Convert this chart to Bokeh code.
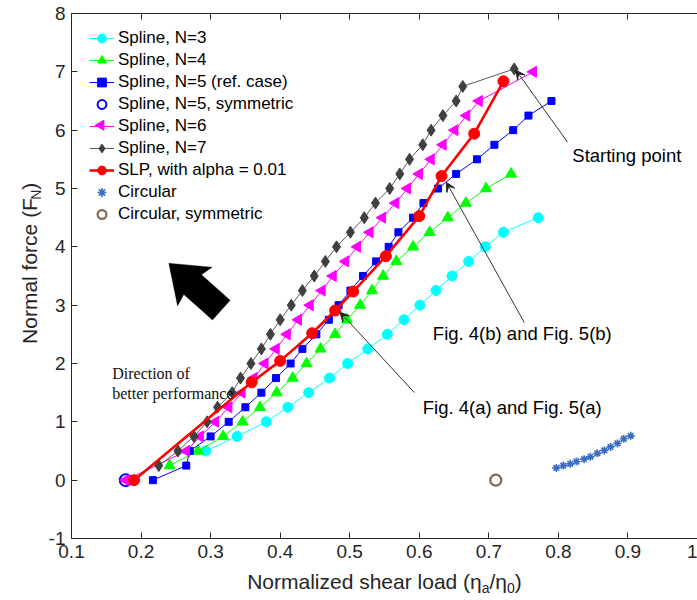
import math
from bokeh.plotting import figure
from bokeh.layouts import row, column
from bokeh.models import (Range1d, FixedTicker, Legend, LegendItem, Label, Arrow, VeeHead,
                          PolyAnnotation, LinearAxis, CustomJSTickFormatter)
from bokeh.embed import file_html
from bokeh.resources import INLINE

# ---------------- data ----------------
n3_x = [0.293, 0.338, 0.380, 0.411, 0.441, 0.471, 0.497, 0.526, 0.554, 0.578, 0.601,
        0.624, 0.647, 0.671, 0.695, 0.721, 0.771]
n3_y = [0.5, 0.75, 1.0, 1.25, 1.5, 1.75, 2.0, 2.25, 2.5, 2.75, 3.0,
        3.25, 3.5, 3.75, 4.0, 4.25, 4.5]

n4_x = [0.241, 0.282, 0.318, 0.346, 0.371, 0.395, 0.418, 0.438, 0.458, 0.479, 0.496,
        0.515, 0.532, 0.548, 0.567, 0.591, 0.615, 0.641, 0.667, 0.696, 0.732]
n4_y = [0.25, 0.5, 0.75, 1.0, 1.25, 1.5, 1.75, 2.0, 2.25, 2.5, 2.75,
        3.0, 3.25, 3.5, 3.75, 4.0, 4.25, 4.5, 4.75, 5.0, 5.25]

n5_x = [0.217, 0.265, 0.270, 0.300, 0.326, 0.350, 0.373, 0.394, 0.415, 0.432, 0.452,
        0.470, 0.484, 0.501, 0.519, 0.538, 0.556, 0.570, 0.591, 0.606, 0.627, 0.653,
        0.683, 0.708, 0.735, 0.757, 0.790]
n5_y = [0.0, 0.25, 0.5, 0.75, 1.0, 1.25, 1.5, 1.75, 2.0, 2.25, 2.5,
        2.75, 3.0, 3.25, 3.5, 3.75, 4.0, 4.25, 4.5, 4.75, 5.0, 5.25,
        5.5, 5.75, 6.0, 6.25, 6.5]

n5sym_x = [0.178]
n5sym_y = [0.0]

n6_x = [0.178, 0.265, 0.285, 0.307, 0.326, 0.345, 0.362, 0.378, 0.394, 0.410, 0.426,
        0.443, 0.460, 0.476, 0.494, 0.511, 0.529, 0.547, 0.566, 0.583, 0.600, 0.617,
        0.634, 0.651, 0.668, 0.686, 0.764]
n6_y = [0.0, 0.5, 0.75, 1.0, 1.25, 1.5, 1.75, 2.0, 2.25, 2.5, 2.75,
        3.0, 3.25, 3.5, 3.75, 4.0, 4.25, 4.5, 4.75, 5.0, 5.25, 5.5,
        5.75, 6.0, 6.25, 6.5, 7.0]

n7_x = [0.2255, 0.253, 0.276, 0.295, 0.310, 0.331, 0.343, 0.358, 0.373, 0.386, 0.400,
        0.416, 0.432, 0.449, 0.465, 0.481, 0.501, 0.521, 0.537, 0.5575, 0.572, 0.586,
        0.605, 0.617, 0.634, 0.653, 0.6625, 0.7365]
n7_y = [0.25, 0.5, 0.75, 1.0, 1.25, 1.5, 1.75, 2.0, 2.25, 2.5, 2.75,
        3.0, 3.25, 3.5, 3.75, 4.0, 4.25, 4.5, 4.75, 5.0, 5.25, 5.5,
        5.75, 6.0, 6.25, 6.5, 6.75, 7.05]

slp_x = [0.190, 0.359, 0.400, 0.446, 0.479, 0.505, 0.552, 0.600, 0.632, 0.679, 0.721]
slp_y = [0.0, 1.678, 2.045, 2.519, 2.908, 3.234, 3.84, 4.527, 5.213, 5.94, 6.838]

circ_x = [0.797, 0.807, 0.817, 0.826, 0.837, 0.846, 0.856, 0.866, 0.875, 0.885, 0.894, 0.904]
circ_y = [0.21, 0.25, 0.28, 0.32, 0.36, 0.40, 0.46, 0.51, 0.57, 0.63, 0.71, 0.76]

circsym_x = [0.71]
circsym_y = [0.0]

x_ticks = [0.1, 0.2, 0.3, 0.4, 0.5, 0.6, 0.7, 0.8, 0.9, 1.0]
y_ticks = [-1, 0, 1, 2, 3, 4, 5, 6, 7, 8]

legend_labels = ["Spline, N=3", "Spline, N=4", "Spline, N=5 (ref. case)",
                 "Spline, N=5, symmetric", "Spline, N=6", "Spline, N=7",
                 "SLP, with alpha = 0.01", "Circular", "Circular, symmetric"]

# annotations: (x_start, y_start, x_end, y_end)
arrow_start = (0.813, 5.797, 0.739, 7.027)
arrow_4b = (0.751, 2.702, 0.639, 5.105)
arrow_4a = (0.593, 1.501, 0.486, 2.879)
txt_start = (0.82, 5.568, "Starting point")
txt_4b = (0.6195, 2.513, "Fig. 4(b) and Fig. 5(b)")
txt_4a = (0.605, 1.244, "Fig. 4(a) and Fig. 5(a)")
dir_tip = (0.2399, 3.719)

# ---------------- layout (page pixels) ----------------
LW = 43                       # width of the y-title strip
PW, PH = 697 - LW, 568        # main figure
BH = 30                       # height of the x-title strip
FL, FT = 71.0, 13.0           # frame left / top (page px)
FR, FB = 697.0, 538.0
XMIN, XMAX, YMIN, YMAX = 0.1, 1.0, -1.0, 8.0
SX = (FR - FL) / (XMAX - XMIN)
SY = (FB - FT) / (YMAX - YMIN)


def to_data(px, py):
    return XMIN + (px - FL) / SX, YMAX - (py - FT) / SY


AX = "#262626"
FONT = "Liberation Sans"

p = figure(width=PW, height=PH, output_backend="svg", toolbar_location=None,
           x_range=Range1d(XMIN, XMAX), y_range=Range1d(YMIN, YMAX),
           min_border_left=int(FL - LW), min_border_right=0, min_border_top=13,
           min_border_bottom=30,
           background_fill_color="white", border_fill_color="white")
p.xgrid.visible = False
p.ygrid.visible = False
p.outline_line_color = None

for ax in (p.xaxis[0], p.yaxis[0]):
    ax.major_tick_in = 6
    ax.major_tick_out = 0
    ax.minor_tick_line_color = None
    ax.axis_line_color = AX
    ax.major_tick_line_color = AX
    ax.major_label_text_font = FONT
    ax.major_label_text_font_size = "19px"
    ax.major_label_text_color = AX
    ax.major_label_standoff = 6
p.xaxis.ticker = FixedTicker(ticks=x_ticks)
p.yaxis.ticker = FixedTicker(ticks=y_ticks)
p.xaxis.major_label_overrides = {1: "1"}
p.yaxis.major_label_overrides = {-1: "-1"}

top = LinearAxis(ticker=FixedTicker(ticks=x_ticks),
                 formatter=CustomJSTickFormatter(code="return ''"),
                 major_tick_in=6, major_tick_out=0, minor_tick_line_color=None,
                 axis_line_color=AX, major_tick_line_color=AX,
                 major_label_standoff=0, major_label_text_font_size="1px")
p.add_layout(top, "above")

# ---------------- series ----------------
CYAN, GREEN, BLUE, MAG, RED = "#00FFFF", "#00FF00", "#0000FF", "#FF00FF", "#FF0000"
GRAYL, GRAYM = "#5a5a5a", "#404040"

r3l = p.line(n3_x, n3_y, line_color=CYAN, line_width=1)
r3m = p.scatter(n3_x, n3_y, marker="circle", size=10, fill_color=CYAN, line_color=CYAN)
r4l = p.line(n4_x, n4_y, line_color=GREEN, line_width=1)
r4m = p.scatter(n4_x, n4_y, marker="triangle", size=11, fill_color=GREEN, line_color=GREEN)
r5l = p.line(n5_x, n5_y, line_color=BLUE, line_width=1)
r5m = p.scatter(n5_x, n5_y, marker="square", size=7, fill_color=BLUE, line_color=BLUE)
r5s = p.scatter(n5sym_x, n5sym_y, marker="circle", size=12, fill_color=None,
                line_color=BLUE, line_width=2)
r6l = p.line(n6_x, n6_y, line_color=MAG, line_width=1)
r6m = p.scatter(n6_x, n6_y, marker="triangle", angle=math.pi / 2, size=11,
                fill_color=MAG, line_color=MAG)
r7l = p.line(n7_x, n7_y, line_color=GRAYL, line_width=1)
r7m = p.scatter(n7_x, n7_y, marker="diamond", size=12,
                fill_color=GRAYM, line_color=GRAYM)
rsl = p.line(slp_x, slp_y, line_color=RED, line_width=2.6)
rsm = p.scatter(slp_x, slp_y, marker="circle", size=11, fill_color=RED, line_color=RED)
rc = p.scatter(circ_x, circ_y, marker="asterisk", size=8, line_color="#3a6cc4", line_width=1.6)
rcs = p.scatter(circsym_x, circsym_y, marker="circle", size=11, fill_color=None,
                line_color="#86674b", line_width=2.2)

groups = [[r3l, r3m], [r4l, r4m], [r5l, r5m], [r5s], [r6l], [r7l, r7m],
          [rsl, rsm], [rc], [rcs]]
items = [LegendItem(label=lab, renderers=g) for lab, g in zip(legend_labels, groups)]
LEG_X, LEG_Y = 18, 313
leg = Legend(items=items, location=(LEG_X, LEG_Y), padding=5, spacing=0, margin=0,
             glyph_width=25, glyph_height=22, label_height=22, label_standoff=4,
             label_text_font=FONT, label_text_font_size="17px", label_text_color="black",
             border_line_color=None, background_fill_alpha=0)
p.add_layout(leg)

# legend glyph for the left-pointing triangle (legend glyphs are never rotated)
lgx, lgy = to_data(FL + LEG_X - 1 + 12.5, 36.7 + 4 * 22)
p.scatter([lgx], [lgy], marker="triangle", angle=math.pi / 2, size=10,
          fill_color=MAG, line_color=MAG)

# ---------------- annotations ----------------
for (xs, ys, xe, ye) in (arrow_start, arrow_4b, arrow_4a):
    p.add_layout(Arrow(end=VeeHead(size=9, fill_color="#222222", line_color="#222222", line_width=1),
                       x_start=xs, y_start=ys, x_end=xe, y_end=ye,
                       line_color="#333333", line_width=1))

for (tx, ty, tt) in (txt_start, txt_4b, txt_4a):
    p.add_layout(Label(x=tx, y=ty, text=tt, text_font=FONT, text_font_size="18.5px",
                       text_align="left", text_baseline="middle", text_color="black"))

# big "direction" arrow, shape given in pixels relative to the tip
tip_px = (FL + (dir_tip[0] - XMIN) * SX, FT + (YMAX - dir_tip[1]) * SY)
d = (0.745, 0.666)
n = (-0.666, 0.745)
shape_uv = [(0, 0), (35, -26), (32, -13.3), (70.5, -13.3), (70.5, 13.3), (32, 13.3), (35, 26)]
poly_x, poly_y = [], []
for u, v in shape_uv:
    px = tip_px[0] + u * d[0] + v * n[0]
    py = tip_px[1] + u * d[1] + v * n[1]
    dx, dy = to_data(px, py)
    poly_x.append(dx)
    poly_y.append(dy)
p.add_layout(PolyAnnotation(xs=poly_x, ys=poly_y, fill_color="black", fill_alpha=1.0,
                            line_color="black", line_width=1))

dx0, dy0 = to_data(111.7, 373.3)
_, dy1 = to_data(111.7, 393.3)
for yy, tt in ((dy0, "Direction of"), (dy1, "better performance")):
    p.add_layout(Label(x=dx0, y=yy, text=tt, text_font="Liberation Serif",
                       text_font_size="16px", text_align="left", text_baseline="middle",
                       text_color="#111111"))

# ---------------- axis titles (with subscripts), in their own strips ----------------
ARIAL = {'N': .722, 'o': .556, 'r': .333, 'm': .833, 'a': .556, 'l': .222, 'i': .222,
         'z': .5, 'e': .556, 'd': .556, ' ': .278, 's': .5, 'h': .556, 'f': .278,
         'c': .5, '(': .333, ')': .333, 'F': .611, '/': .278, 'η': .556, '0': .556}
MID = 0.3465   # distance baseline -> middle of the em box, in em


def tw(s, size):
    return sum(ARIAL.get(c, .556) for c in s) * size


def strip(w, h):
    f = figure(width=w, height=h, output_backend="svg", toolbar_location=None,
               x_range=Range1d(0, w), y_range=Range1d(0, h),
               x_axis_type=None, y_axis_type=None,
               min_border_left=0, min_border_right=0, min_border_top=0, min_border_bottom=0,
               background_fill_color="white", border_fill_color="white")
    f.xgrid.visible = False
    f.ygrid.visible = False
    f.outline_line_color = None
    return f


# y title: strip covers page x 0..LW, y 0..PH ; data y = PH - page y
pl = strip(LW, PH)
ylab = [("Normal force (F", 21, 0), ("N", 14, 5), (")", 21, 0)]
ROT_K = 1.06                              # rotated text runs a little longer
YBASE = 35.8                              # page x of the main baseline (rotated text)
total = sum(tw(s, fs) * ROT_K for s, fs, _ in ylab)
cy = (FT + FB) / 2 + total / 2 - 6
for s, fs, off in ylab:
    w = tw(s, fs) * ROT_K
    cxp = YBASE + off - MID * fs
    pl.add_layout(Label(x=cxp, y=PH - (cy - w / 2), text=s, text_font=FONT,
                        text_font_size=f"{fs}px", text_align="center",
                        text_baseline="middle", text_color=AX, angle=math.pi / 2))
    cy -= w

# x title: strip covers page x 0..697, y PH..PH+BH ; data y = PH + BH - page y
pb = strip(697, BH)
xlab = [("Normalized shear load (η", 21, 0), ("a", 14, 4), ("/η", 21, 0), ("0", 14, 4), (")", 21, 0)]
XBASE = 588.0                             # page y of the main baseline
total = sum(tw(s, fs) for s, fs, _ in xlab)
cx = (FL + FR) / 2 - total / 2
for s, fs, off in xlab:
    w = tw(s, fs)
    cyp = XBASE + off - MID * fs
    pb.add_layout(Label(x=cx + w / 2, y=PH + BH - cyp, text=s, text_font=FONT,
                        text_font_size=f"{fs}px", text_align="center",
                        text_baseline="middle", text_color=AX))
    cx += w

layout = column(row(pl, p, spacing=0), pb, spacing=0)
open("out.html", "w").write(file_html(layout, INLINE))
